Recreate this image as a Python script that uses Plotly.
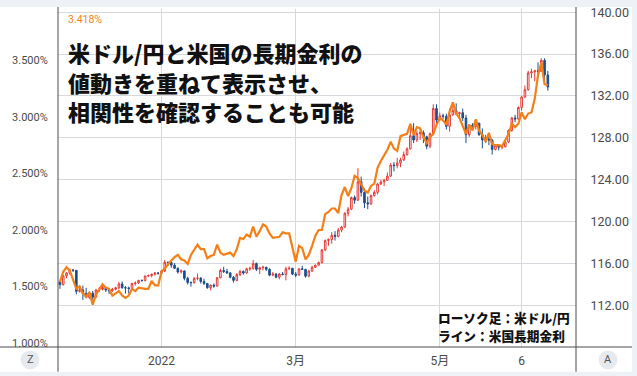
import pandas as pd
import plotly.graph_objects as go

# ---------------- data ----------------
dates = [d.strftime("%Y-%m-%d") for d in pd.bdate_range("2021-11-19", "2022-06-16")]

usdjpy_open = [
    114.27, 114.00, 114.84, 115.11, 115.37, 115.36, 113.35, 113.48, 113.15, 112.78,
    113.18, 112.80, 113.46, 113.54, 113.72, 113.48, 113.40, 113.55, 113.70, 114.05,
    113.70, 113.68, 113.62, 114.10, 114.15, 114.40, 114.38, 114.82, 114.85, 114.98,
    115.10, 115.08, 115.30, 116.12, 116.10, 115.85, 115.55, 115.20, 115.30, 114.60,
    114.20, 114.18, 114.60, 114.62, 114.30, 114.10, 113.70, 113.95, 113.85, 114.65,
    115.35, 115.25, 115.10, 114.70, 114.40, 114.95, 115.25, 115.10, 115.50, 115.55,
    116.00, 115.45, 115.60, 115.65, 115.45, 114.90, 115.00, 114.70, 115.00, 114.95,
    115.50, 115.55, 115.00, 114.90, 115.50, 115.45, 114.80, 115.30, 115.65, 115.85,
    116.10, 117.30, 118.20, 118.30, 118.70, 118.60, 119.20, 119.50, 120.80, 121.20,
    122.30, 122.05, 123.80, 122.80, 121.80, 121.70, 122.50, 122.80, 123.60, 123.80,
    123.95, 124.35, 125.40, 125.35, 125.60, 125.90, 126.40, 126.95, 128.20, 127.80,
    128.40, 128.50, 128.10, 127.20, 128.40, 130.80, 129.70, 130.10, 130.05, 129.10,
    130.20, 130.60, 130.30, 130.40, 129.90, 128.30, 129.20, 129.10, 129.40, 128.30,
    127.80, 127.90, 127.80, 126.90, 127.30, 127.10, 127.15, 127.60, 128.70, 129.90,
    129.80, 130.90, 131.90, 132.60, 134.20, 134.30, 134.40, 134.35, 135.40, 134.00,
]
usdjpy_high = [
    114.35, 114.88, 115.18, 115.52, 115.50, 115.37, 113.95, 113.90, 113.69, 113.35,
    113.39, 113.60, 113.77, 113.95, 113.78, 113.68, 113.69, 113.78, 114.25, 114.30,
    113.85, 113.80, 114.18, 114.30, 114.45, 114.48, 114.85, 114.95, 115.05, 115.20,
    115.20, 115.40, 116.35, 116.20, 116.20, 116.05, 115.65, 115.45, 115.35, 114.75,
    114.30, 114.70, 115.05, 114.70, 114.55, 114.15, 114.00, 114.10, 114.70, 115.50,
    115.70, 115.50, 115.20, 114.80, 115.10, 115.40, 115.35, 115.60, 115.70, 116.35,
    116.10, 115.70, 115.80, 115.70, 115.55, 115.20, 115.10, 115.10, 115.20, 115.70,
    115.75, 115.60, 115.20, 115.55, 115.80, 115.50, 115.40, 115.80, 115.90, 116.20,
    117.40, 118.30, 118.40, 119.00, 119.10, 119.40, 119.60, 120.90, 121.40, 122.40,
    122.50, 125.10, 124.30, 123.20, 122.40, 122.60, 123.00, 123.70, 124.00, 124.10,
    124.70, 125.60, 125.70, 126.10, 126.10, 126.70, 127.10, 129.00, 129.40, 128.70,
    128.80, 128.70, 128.20, 128.50, 131.20, 131.20, 130.40, 130.30, 130.30, 130.80,
    131.30, 131.30, 130.50, 130.80, 130.20, 129.30, 129.40, 129.50, 129.45, 128.90,
    128.30, 128.10, 127.90, 127.40, 127.40, 127.30, 127.70, 128.80, 130.00, 130.20,
    131.00, 132.00, 133.00, 134.40, 134.60, 134.50, 135.20, 135.60, 135.60, 134.40,
]
usdjpy_low = [
    113.59, 113.90, 114.60, 114.95, 115.20, 113.06, 113.23, 112.53, 112.70, 112.63,
    112.55, 112.75, 113.30, 113.44, 113.30, 113.10, 113.30, 113.45, 113.55, 113.60,
    113.14, 113.15, 113.55, 113.90, 114.05, 114.28, 114.30, 114.70, 114.70, 114.85,
    114.95, 114.95, 115.20, 115.80, 115.60, 115.50, 115.05, 115.05, 114.40, 114.00,
    113.80, 114.10, 114.40, 114.10, 113.95, 113.60, 113.45, 113.70, 113.80, 114.60,
    115.10, 115.00, 114.60, 114.20, 114.30, 114.80, 114.95, 115.05, 115.30, 115.40,
    115.30, 115.00, 115.35, 115.30, 114.80, 114.80, 114.60, 114.50, 114.90, 114.40,
    115.40, 114.90, 114.70, 114.85, 115.40, 114.65, 114.70, 115.20, 115.60, 115.80,
    116.00, 117.20, 117.70, 117.90, 118.20, 118.50, 119.00, 119.40, 120.50, 121.10,
    121.70, 122.00, 122.40, 121.30, 121.20, 121.60, 122.40, 122.60, 123.50, 123.40,
    123.90, 124.30, 124.80, 125.10, 125.20, 125.80, 126.30, 126.90, 127.50, 127.60,
    127.80, 127.50, 126.90, 127.00, 128.40, 129.30, 129.70, 129.80, 128.80, 128.60,
    130.10, 130.20, 129.80, 129.60, 127.50, 128.10, 128.90, 128.80, 128.20, 127.00,
    127.50, 127.30, 126.40, 126.80, 126.80, 126.90, 127.10, 127.50, 128.60, 129.50,
    129.70, 130.60, 131.80, 132.50, 133.70, 133.40, 133.80, 134.30, 133.50, 132.50,
]
usdjpy_close = [
    114.00, 114.84, 115.11, 115.37, 115.36, 113.35, 113.48, 113.15, 112.78, 113.18,
    112.80, 113.46, 113.54, 113.72, 113.48, 113.40, 113.55, 113.70, 114.05, 113.70,
    113.68, 113.62, 114.10, 114.15, 114.40, 114.38, 114.82, 114.85, 114.98, 115.10,
    115.08, 115.30, 116.12, 116.10, 115.85, 115.55, 115.20, 115.30, 114.60, 114.20,
    114.18, 114.60, 114.62, 114.30, 114.10, 113.70, 113.95, 113.85, 114.65, 115.35,
    115.25, 115.10, 114.70, 114.40, 114.95, 115.25, 115.10, 115.50, 115.55, 116.00,
    115.45, 115.60, 115.65, 115.45, 114.90, 115.00, 114.70, 115.00, 114.95, 115.50,
    115.55, 115.00, 114.90, 115.50, 115.45, 114.80, 115.30, 115.65, 115.85, 116.10,
    117.30, 118.20, 118.30, 118.70, 118.60, 119.20, 119.50, 120.80, 121.20, 122.30,
    122.05, 123.80, 122.80, 121.80, 121.70, 122.50, 122.80, 123.60, 123.80, 123.95,
    124.35, 125.40, 125.35, 125.60, 125.90, 126.40, 126.95, 128.20, 127.80, 128.40,
    128.50, 128.10, 127.20, 128.40, 130.80, 129.70, 130.10, 130.05, 129.10, 130.20,
    130.60, 130.30, 130.40, 129.90, 128.30, 129.20, 129.10, 129.40, 128.30, 127.80,
    127.90, 127.80, 126.90, 127.30, 127.10, 127.15, 127.60, 128.70, 129.90, 129.80,
    130.90, 131.90, 132.60, 134.20, 134.30, 134.40, 134.35, 135.40, 134.00, 132.85,
]
us10y = [
    1.54, 1.63, 1.67, 1.64, None, 1.48, 1.50, 1.44, 1.41, 1.45,
    1.34, 1.43, 1.48, 1.52, 1.49, 1.48, 1.42, 1.44, 1.46, 1.42,
    1.40, 1.42, 1.48, 1.46, 1.49, None, 1.48, 1.48, 1.55, 1.51,
    1.51, 1.63, 1.66, 1.70, 1.73, 1.76, 1.78, 1.74, 1.73, 1.70,
    1.78, None, 1.87, 1.83, 1.83, 1.75, 1.77, 1.78, 1.87, 1.80,
    1.78, 1.79, 1.80, 1.77, 1.83, 1.93, 1.92, 1.96, 1.94, 2.03,
    1.94, 1.99, 2.05, 2.03, 1.97, 1.93, None, 1.94, 1.98, 1.97,
    1.97, 1.83, 1.72, 1.86, 1.84, 1.74, 1.78, 1.86, 1.95, 2.00,
    2.00, 2.14, 2.16, 2.19, 2.19, 2.15, 2.31, 2.38, 2.30, 2.37,
    2.48, 2.46, 2.40, 2.35, 2.33, 2.39, 2.41, 2.55, 2.61, 2.66,
    2.71, 2.78, 2.72, 2.70, 2.83, None, 2.85, 2.94, 2.84, 2.91,
    2.90, 2.82, 2.77, 2.82, 2.85, 2.93, 2.99, 2.97, 2.93, 3.05,
    3.13, 3.03, 2.99, 2.92, 2.85, 2.93, 2.88, 2.98, 2.88, 2.84,
    2.78, 2.86, 2.76, 2.75, 2.75, 2.74, None, 2.85, 2.94, 2.91,
    2.94, 3.04, 2.98, 3.03, 3.04, 3.16, 3.37, 3.48, 3.29, 3.28,
]

x_tick_dates = ["2022-01-03", "2022-03-01", "2022-05-02", "2022-06-06"]
x_tick_labels = ["2022", "3月", "5月", "6"]
yen_ticks = [112, 116, 120, 124, 128, 132, 136, 140]
yen_tick_labels = ["112.00", "116.00", "120.00", "124.00", "128.00", "132.00", "136.00", "140.00"]
pct_ticks = [1.0, 1.5, 2.0, 2.5, 3.0, 3.5]
pct_tick_labels = ["1.000%", "1.500%", "2.000%", "2.500%", "3.000%", "3.500%"]
last_yield_label = "3.418%"
title_lines = ["米ドル/円と米国の長期金利の", "値動きを重ねて表示させ、", "相関性を確認することも可能"]
legend_lines = ["ローソク足：米ドル/円", "ライン：米国長期金利"]

# ---------------- geometry ----------------
W, H = 637, 376
L, R, T, B = 58, 61, 5, 29
PW, PH = W - L - R, H - T - B


def xp(px):
    return (px - L) / PW


def yp(py):
    return (H - B - py) / PH


UP = "#e53935"
DOWN = "#1c4f8e"
ORANGE = "#f57f17"
FRAME = "#4d4d4d"
GRID = "#d5d8dc"
CLEAR = "rgba(0,0,0,0)"

fig = go.Figure()
fig.add_trace(go.Candlestick(
    x=dates, open=usdjpy_open, high=usdjpy_high, low=usdjpy_low, close=usdjpy_close,
    increasing=dict(line=dict(color=UP, width=1), fillcolor="white"),
    decreasing=dict(line=dict(color=DOWN, width=1), fillcolor=DOWN),
    whiskerwidth=0, yaxis="y", xaxis="x", showlegend=False, hoverinfo="skip",
))
fig.add_trace(go.Scatter(
    x=dates, y=us10y, mode="lines", connectgaps=True,
    line=dict(color=ORANGE, width=2.2), yaxis="y2", xaxis="x", showlegend=False,
    hoverinfo="skip",
))

tick_font = dict(family="Roboto, Noto Sans CJK JP, sans-serif", color="#4a4a4a")

fig.update_layout(
    width=W, height=H,
    margin=dict(l=L, r=R, t=T, b=B, pad=0),
    paper_bgcolor="#eef1f5",
    plot_bgcolor="white",
    xaxis=dict(
        type="category", range=[-0.6, 157.6],
        tickmode="array", tickvals=x_tick_dates, ticktext=x_tick_labels,
        showgrid=True, gridcolor=GRID, gridwidth=1,
        ticks="outside", ticklen=3, tickcolor=CLEAR, showline=False, zeroline=False,
        tickfont=dict(size=12, **tick_font), ticklabeloverflow="allow",
        rangeslider=dict(visible=False),
    ),
    yaxis=dict(
        side="right", range=[108.04, 140.30],
        tickmode="array", tickvals=yen_ticks, ticktext=yen_tick_labels,
        showgrid=True, gridcolor=GRID, gridwidth=1,
        ticks="outside", ticklen=11, tickcolor=CLEAR, showline=False, zeroline=False,
        tickfont=dict(size=12.5, **tick_font), ticklabeloverflow="allow",
    ),
    yaxis2=dict(
        overlaying="y", side="left", range=[0.965, 3.955],
        tickmode="array", tickvals=pct_ticks, ticktext=pct_tick_labels,
        showgrid=False, ticks="outside", ticklen=7, tickcolor=CLEAR,
        showline=False, zeroline=False,
        tickfont=dict(size=11, **tick_font), ticklabeloverflow="allow",
    ),
    showlegend=False,
)

shapes = [
    dict(type="rect", xref="paper", yref="paper", x0=xp(0), x1=xp(632), y0=yp(372), y1=yp(3),
         fillcolor="white", line=dict(width=0), layer="below"),
    dict(type="line", xref="paper", yref="paper", x0=xp(58), x1=xp(58), y0=yp(372), y1=yp(3),
         line=dict(color=FRAME, width=1), layer="above"),
    dict(type="line", xref="paper", yref="paper", x0=xp(576), x1=xp(576), y0=yp(372), y1=yp(3),
         line=dict(color=FRAME, width=1), layer="above"),
    dict(type="line", xref="paper", yref="paper", x0=xp(0), x1=xp(632), y0=yp(347), y1=yp(347),
         line=dict(color=FRAME, width=1), layer="above"),
    dict(type="circle", xref="paper", yref="paper", x0=xp(20.5), x1=xp(39.5), y0=yp(369.5), y1=yp(350.5),
         fillcolor="#e6e9ee", line=dict(width=0), layer="above"),
    dict(type="circle", xref="paper", yref="paper", x0=xp(598.5), x1=xp(617.5), y0=yp(369.5), y1=yp(350.5),
         fillcolor="#e6e9ee", line=dict(width=0), layer="above"),
]
fig.update_layout(shapes=shapes)

ann = []
cjk = "Noto Sans CJK JP, sans-serif"
ann.append(dict(text=last_yield_label, x=xp(66), y=yp(16), xref="paper", yref="paper",
                xanchor="left", yanchor="middle", showarrow=False,
                font=dict(family="Roboto, sans-serif", size=10.5, color=ORANGE)))
for line, py in zip(title_lines, [49, 79, 108]):
    ann.append(dict(text=line, x=xp(66), y=yp(py), xref="paper", yref="paper",
                    xanchor="left", yanchor="middle", showarrow=False,
                    font=dict(family=cjk, size=22, color="#111111", weight=900)))
for line, py in zip(legend_lines, [317, 335]):
    ann.append(dict(text=line, x=xp(436), y=yp(py), xref="paper", yref="paper",
                    xanchor="left", yanchor="middle", showarrow=False,
                    font=dict(family=cjk, size=12.7, color="#111111", weight=900)))
for t, px in [("Z", 30), ("A", 608)]:
    ann.append(dict(text=t, x=xp(px), y=yp(360), xref="paper", yref="paper",
                    xanchor="center", yanchor="middle", showarrow=False,
                    font=dict(family="Roboto, sans-serif", size=11, color="#555555")))
fig.update_layout(annotations=ann)

fig.write_html(
    "out.html",
    config={"displayModeBar": False},
    post_script="document.body.style.margin='0';document.body.style.overflow='hidden';",
)
